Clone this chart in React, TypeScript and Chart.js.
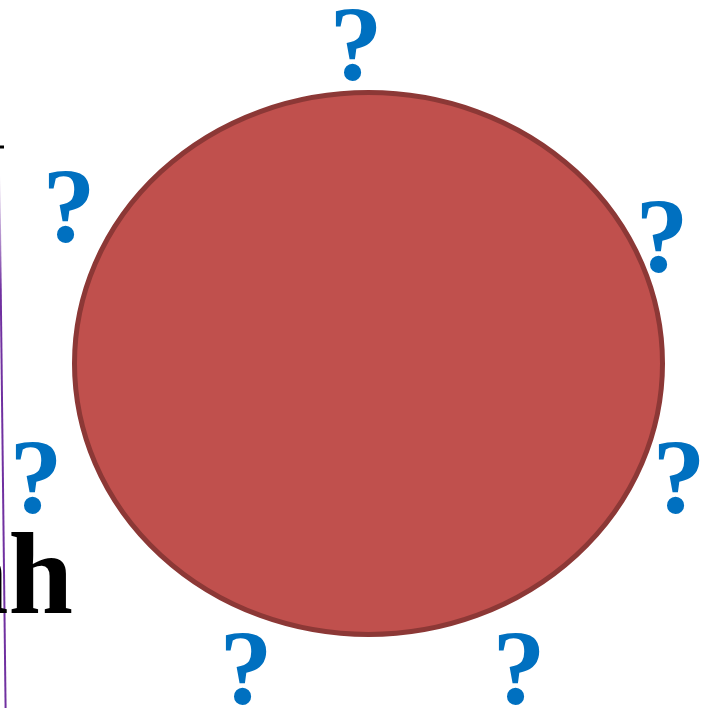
import React, { useEffect, useRef } from "react";
import { Chart, registerables } from "chart.js";

Chart.register(...registerables);

// Ellipse (centre x, centre y) and radii (x, y) in page units
const ellipseCenter = [368.5, 363.5];
const ellipseRadii = [294, 271];

// Question-mark positions (glyph centre x, baseline y)
const markX = [356, 69, 662, 36, 679, 246, 519];
const markY = [80, 242, 272, 513, 513, 704, 704];
const markLabel = "?";

// Cut-off word on the left
const sideText = "nh";
const sideTextPos = [73, 613];

// Purple divider line
const lineX = [-0.6, 5.6];
const lineY = [175, 708];

// Small black fragment at top-left
const fragX = [0, 4];
const fragY = [147, 147];

const FILL = "#C0504D";
const STROKE = "#8C3836";
const BLUE = "#0070C0";
const PURPLE = "#7030A0";

export default function App() {
  const ref = useRef<HTMLCanvasElement | null>(null);

  useEffect(() => {
    const canvas = ref.current;
    if (!canvas) return;

    const ellipsePlugin = {
      id: "ellipsePlugin",
      beforeDatasetsDraw(chart: any) {
        const { ctx, scales } = chart;
        const xs = scales.x;
        const ys = scales.y;
        const cx = xs.getPixelForValue(ellipseCenter[0]);
        const cy = ys.getPixelForValue(ellipseCenter[1]);
        const rx = Math.abs(xs.getPixelForValue(ellipseCenter[0] + ellipseRadii[0]) - cx);
        const ry = Math.abs(ys.getPixelForValue(ellipseCenter[1] + ellipseRadii[1]) - cy);
        ctx.save();
        ctx.beginPath();
        ctx.ellipse(cx, cy, rx, ry, 0, 0, Math.PI * 2);
        ctx.fillStyle = FILL;
        ctx.fill();
        ctx.lineWidth = 5;
        ctx.strokeStyle = STROKE;
        ctx.stroke();
        ctx.restore();
      },
    };

    const textPlugin = {
      id: "textPlugin",
      afterDatasetsDraw(chart: any) {
        const { ctx, scales } = chart;
        const meta = chart.getDatasetMeta(0);
        ctx.save();
        ctx.font = 'bold 106px "Liberation Serif", "Times New Roman", serif';
        ctx.fillStyle = BLUE;
        ctx.textAlign = "center";
        ctx.textBaseline = "alphabetic";
        meta.data.forEach((el: any) => {
          ctx.fillText(markLabel, el.x, el.y);
        });
        ctx.font = 'bold 116px "Liberation Serif", "Times New Roman", serif';
        ctx.fillStyle = "#000000";
        ctx.textAlign = "right";
        ctx.fillText(
          sideText,
          scales.x.getPixelForValue(sideTextPos[0]),
          scales.y.getPixelForValue(sideTextPos[1])
        );
        ctx.restore();
      },
    };

    const chart = new Chart(canvas, {
      type: "scatter",
      data: {
        datasets: [
          {
            data: markX.map((x, i) => ({ x, y: markY[i] })),
            pointRadius: 0,
            showLine: false,
          },
          {
            data: lineX.map((x, i) => ({ x, y: lineY[i] })),
            showLine: true,
            pointRadius: 0,
            borderWidth: 2,
            borderColor: (c: any) => {
              const ch = c.chart;
              if (!ch.chartArea) return PURPLE;
              const ys = ch.scales.y;
              const g = ch.ctx.createLinearGradient(
                0,
                ys.getPixelForValue(175),
                0,
                ys.getPixelForValue(290)
              );
              g.addColorStop(0, "rgba(112,48,160,0)");
              g.addColorStop(1, PURPLE);
              return g;
            },
          },
          {
            data: fragX.map((x, i) => ({ x, y: fragY[i] })),
            showLine: true,
            pointRadius: 0,
            borderWidth: 3,
            borderColor: "#000000",
          },
        ],
      },
      options: {
        animation: false,
        responsive: false,
        maintainAspectRatio: false,
        layout: { padding: 0 },
        plugins: {
          legend: { display: false },
          tooltip: { enabled: false },
          title: { display: false },
        },
        events: [],
        scales: {
          x: { type: "linear", min: 0, max: 709, display: false },
          y: { type: "linear", min: 0, max: 708, reverse: true, display: false },
        },
      },
      plugins: [ellipsePlugin, textPlugin],
    });

    return () => chart.destroy();
  }, []);

  return (
    <div
      style={{
        position: "fixed",
        left: 0,
        top: 0,
        width: 709,
        height: 708,
        background: "#ffffff",
        overflow: "hidden",
      }}
    >
      <canvas ref={ref} width={709} height={708} style={{ display: "block" }} />
    </div>
  );
}
